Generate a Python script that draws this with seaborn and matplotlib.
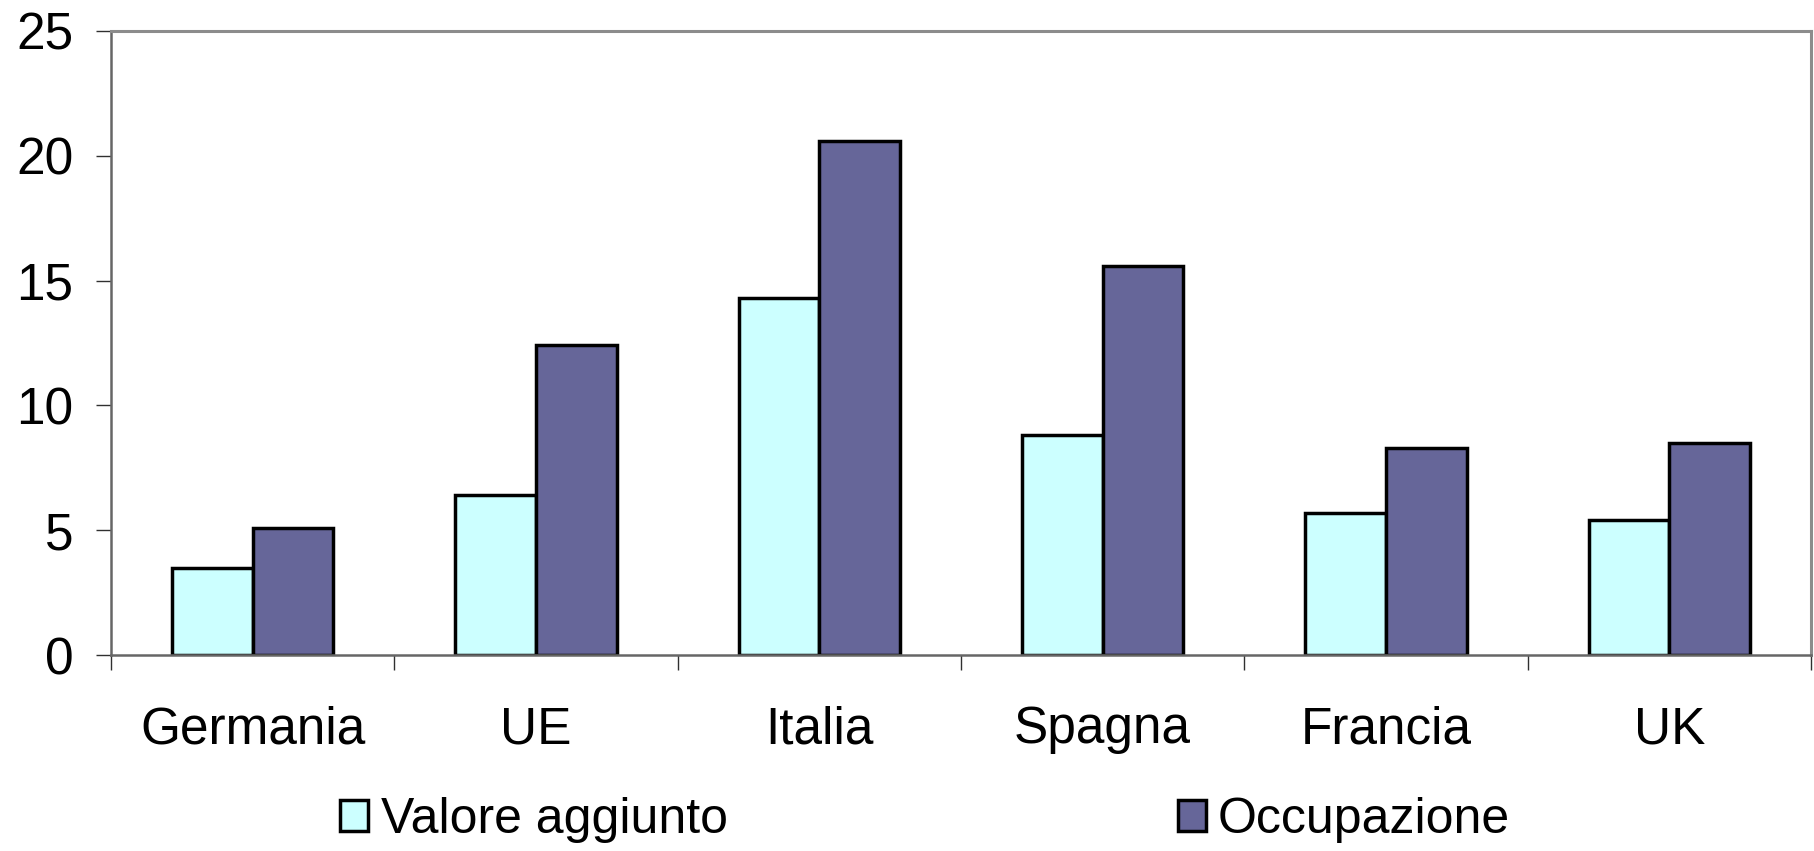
import pandas as pd
import seaborn as sns
import matplotlib
matplotlib.use('Agg')
import matplotlib.pyplot as plt
from matplotlib.patches import Patch

# dati
paesi = ["Germania", "UE", "Italia", "Spagna", "Francia", "UK"]
valore_aggiunto = [3.5, 6.4, 14.3, 8.8, 5.7, 5.4]
occupazione = [5.1, 12.4, 20.6, 15.6, 8.3, 8.5]
serie = ["Valore aggiunto", "Occupazione"]
colori = ["#CCFFFF", "#666699"]

df = pd.DataFrame({
    "paese": paesi * 2,
    "valore": valore_aggiunto + occupazione,
    "serie": [serie[0]] * len(paesi) + [serie[1]] * len(paesi),
})

sns.set_style("white")
plt.rcParams['font.family'] = ['Liberation Sans', 'DejaVu Sans']
plt.rcParams['text.color'] = 'black'

fig = plt.figure(figsize=(18.14, 8.51), dpi=100)
ax = fig.add_axes([0.0612, 0.2303, 0.9371, 0.7333])

sns.barplot(data=df, x="paese", y="valore", hue="serie", palette=colori,
            width=0.57, saturation=1, edgecolor="black", linewidth=2.5,
            ax=ax, legend=False)

ax.set_xlim(-0.5, len(paesi) - 0.5)
ax.set_ylim(0, 25)
ax.set_yticks([0, 5, 10, 15, 20, 25])
ax.set_xlabel("")
ax.set_ylabel("")

# tick ai confini delle categorie, etichette al centro
ax.set_xticks([i - 0.5 for i in range(len(paesi) + 1)])
ax.set_xticklabels([])
ax.set_xticks(range(len(paesi)), minor=True)
ax.set_xticklabels(paesi, minor=True)
ax.tick_params(axis="x", which="major", bottom=True, direction="out", length=11, width=1, color="#303030")
ax.tick_params(axis="x", which="minor", bottom=True, length=0, pad=36, labelsize=37, labelcolor="black")
ax.tick_params(axis="y", left=True, direction="out", length=11, width=1, color="#303030",
               pad=16, labelsize=37, labelcolor="black")

for lato in ["top", "right"]:
    ax.spines[lato].set_color("#8c8c8c")
    ax.spines[lato].set_linewidth(2.2)
for lato in ["left", "bottom"]:
    ax.spines[lato].set_color("#666666")
    ax.spines[lato].set_linewidth(1.8)

maniglie = [Patch(facecolor=c, edgecolor="black", linewidth=2.5) for c in colori]
fig.legend(maniglie, serie, loc="center", bbox_to_anchor=(0.51, 0.036), ncol=2,
           frameon=False, fontsize=36, handlelength=0.56, handleheight=0.56,
           handletextpad=0.25, columnspacing=9.0, borderpad=0)

fig.savefig("out.png", dpi=100)
